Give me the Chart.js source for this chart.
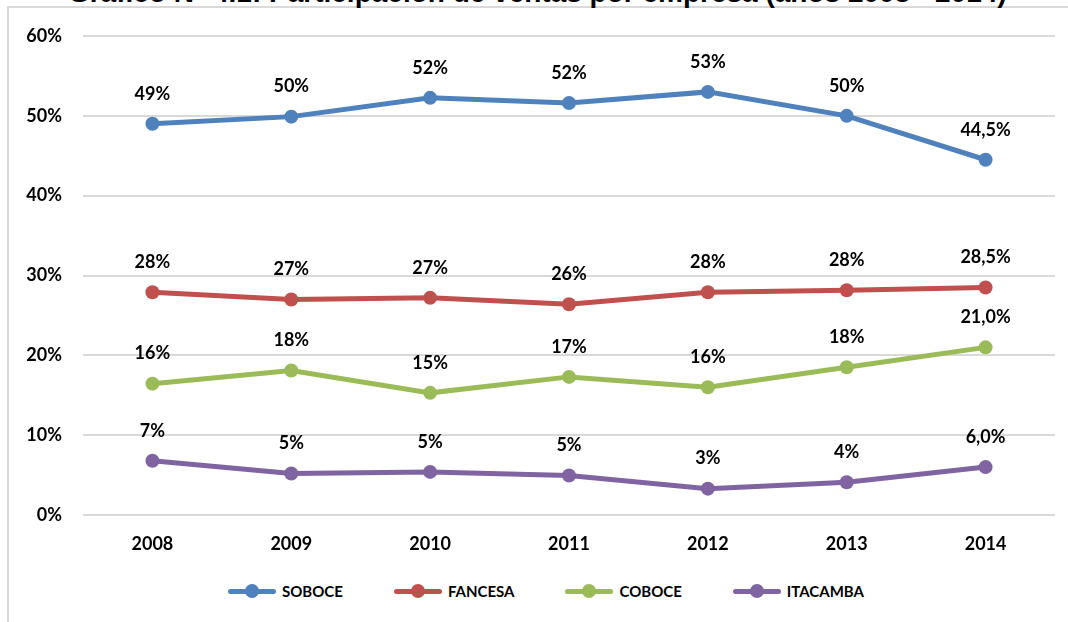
<!DOCTYPE html>
<html>
<head>
<meta charset="utf-8">
<script src="https://cdn.jsdelivr.net/npm/chart.js@4"></script>
<style>
  html, body { margin: 0; padding: 0; background: #fff; }
  body { width: 1068px; height: 622px; position: relative; overflow: hidden; font-family: Lato, "Open Sans", sans-serif; }
  #title { position: absolute; left: 0; top: -21px; white-space: nowrap; font: bold 28px "Liberation Sans", Arial, sans-serif; line-height: 28px; color: #000; }
  #frame { position: absolute; left: 7px; top: 6px; width: 1070px; height: 630px; border: 2px solid #d9d9d9; box-sizing: border-box; background: #fff; }
  #wrap { position: absolute; left: 0; top: 0; width: 1068px; height: 560px; }
  #legend { position: absolute; left: 228px; top: 580px; height: 22px; display: flex; align-items: center; }
  .item { display: flex; align-items: center; margin-right: 51px; font: bold 15px Lato, sans-serif; color: #000; }
  .sample { position: relative; width: 48px; height: 5px; border-radius: 3px; margin-right: 6px; }
  .sample span { position: absolute; left: 17px; top: -5px; width: 14px; height: 14px; border-radius: 50%; }
</style>
</head>
<body>
<div id="frame"></div>
<div id="title">Gráfico N° 4.1: Participación de ventas por empresa (años 2008 - 2014)</div>
<div id="wrap"><canvas id="chart" width="1068" height="560"></canvas></div>
<div id="legend"></div>
<script>
  // Datos del gráfico
  const years = ['2008', '2009', '2010', '2011', '2012', '2013', '2014'];
  const seriesNames = ['SOBOCE', 'FANCESA', 'COBOCE', 'ITACAMBA'];
  const seriesColors = ['#4f81bd', '#c0504d', '#9bbb59', '#8064a2'];

  const soboce = [49.0, 49.9, 52.25, 51.6, 53.0, 50.0, 44.5];
  const fancesa = [27.9, 27.0, 27.2, 26.4, 27.9, 28.15, 28.5];
  const coboce = [16.45, 18.1, 15.3, 17.3, 16.0, 18.5, 21.0];
  const itacamba = [6.8, 5.2, 5.4, 4.95, 3.3, 4.1, 6.0];

  const soboceLabels = ['49%', '50%', '52%', '52%', '53%', '50%', '44,5%'];
  const fancesaLabels = ['28%', '27%', '27%', '26%', '28%', '28%', '28,5%'];
  const coboceLabels = ['16%', '18%', '15%', '17%', '16%', '18%', '21,0%'];
  const itacambaLabels = ['7%', '5%', '5%', '5%', '3%', '4%', '6,0%'];

  const yTicks = [0, 10, 20, 30, 40, 50, 60];

  const allValues = [soboce, fancesa, coboce, itacamba];
  const allLabels = [soboceLabels, fancesaLabels, coboceLabels, itacambaLabels];

  const labelFont = 'bold 18px Lato, sans-serif';

  // Título recortado: colocar la "p" de "por" como en el original
  const titleEl = document.getElementById('title');
  const mctx = document.createElement('canvas').getContext('2d');
  mctx.font = 'bold 28px "Liberation Sans", Arial, sans-serif';
  const prefix = titleEl.textContent.split('por ')[0];
  titleEl.style.left = Math.round(590 - mctx.measureText(prefix).width) + 'px';

  // Etiquetas de datos encima de cada punto
  const pointLabels = {
    id: 'pointLabels',
    afterDatasetsDraw(chart) {
      const ctx = chart.ctx;
      ctx.save();
      ctx.font = labelFont;
      ctx.fillStyle = '#000';
      ctx.textAlign = 'center';
      ctx.textBaseline = 'middle';
      chart.data.datasets.forEach((ds, i) => {
        chart.getDatasetMeta(i).data.forEach((pt, j) => {
          ctx.fillText(allLabels[i][j], pt.x, pt.y - 30);
        });
      });
      ctx.restore();
    }
  };

  const datasets = seriesNames.map((name, i) => ({
    label: name,
    data: allValues[i],
    borderColor: seriesColors[i],
    backgroundColor: seriesColors[i],
    borderWidth: 5,
    pointRadius: 7,
    pointHoverRadius: 7,
    pointBorderWidth: 0,
    tension: 0
  }));

  new Chart(document.getElementById('chart'), {
    type: 'line',
    data: { labels: years, datasets: datasets },
    options: {
      responsive: false,
      animation: false,
      layout: { padding: { top: 36, left: 0, right: 13, bottom: 0 } },
      plugins: {
        legend: { display: false },
        tooltip: { enabled: false }
      },
      scales: {
        x: {
          offset: true,
          grid: { display: false },
          border: { display: false },
          ticks: { color: '#000', font: { family: 'Lato', weight: 'bold', size: 18 }, padding: 10 },
          afterFit: s => { s.height = 45; }
        },
        y: {
          min: yTicks[0],
          max: yTicks[yTicks.length - 1],
          afterBuildTicks: s => { s.ticks = yTicks.map(v => ({ value: v })); },
          grid: { color: '#d9d9d9', lineWidth: 2, drawTicks: false },
          border: { display: false },
          ticks: { color: '#000', font: { family: 'Lato', weight: 'bold', size: 18 }, padding: 21, callback: v => v + '%' },
          afterFit: s => { s.width = 83; }
        }
      }
    },
    plugins: [pointLabels]
  });

  // Leyenda
  const legend = document.getElementById('legend');
  seriesNames.forEach((name, i) => {
    const item = document.createElement('div');
    item.className = 'item';
    item.innerHTML = `<div class="sample" style="background:${seriesColors[i]}"><span style="background:${seriesColors[i]}"></span></div>${name}`;
    legend.appendChild(item);
  });
</script>
</body>
</html>
